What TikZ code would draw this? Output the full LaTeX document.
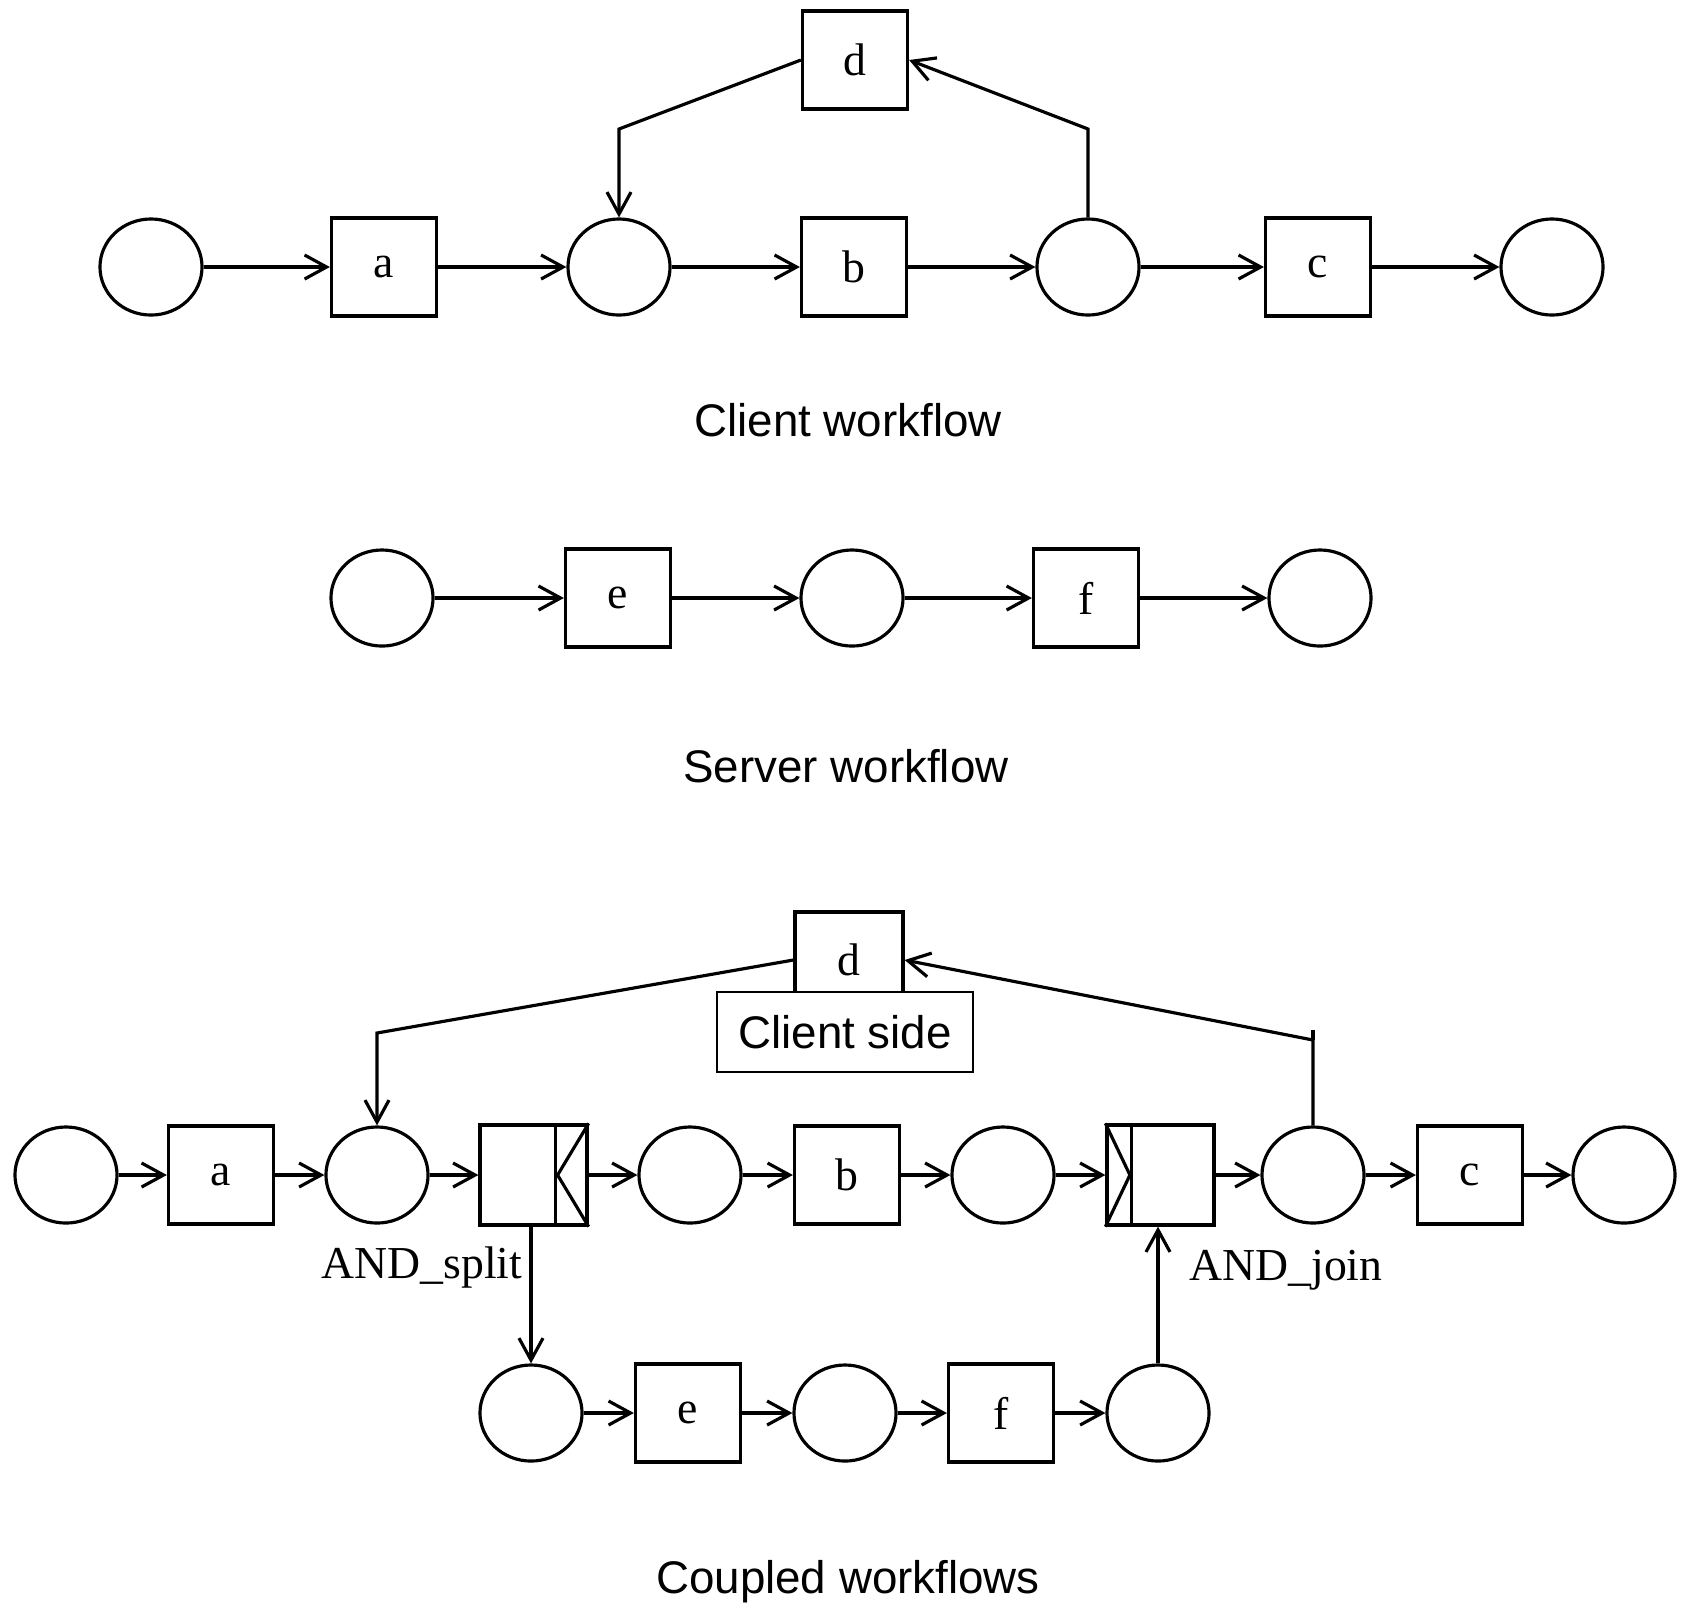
\documentclass[tikz,border=0pt]{standalone}
\usepackage{fontspec}
\setmainfont{Liberation Serif}
\newfontfamily\lsans{Liberation Sans}
\usetikzlibrary{arrows.meta,shapes.geometric}
\begin{document}
\begin{tikzpicture}[x=0.01cm,y=-0.01cm,
  place/.style={ellipse,draw,line width=0.9pt,minimum width=1.02cm,minimum height=0.96cm,inner sep=0pt},
  trans/.style={rectangle,draw,line width=0.9pt,minimum width=1.05cm,minimum height=0.98cm,inner sep=0pt,font=\fontsize{13}{15}\selectfont},
  arr/.style={line width=0.9pt,-{Straight Barb[length=2.2mm,width=2.4mm]}},
  ln/.style={line width=0.9pt},
  lbl/.style={font=\lsans\fontsize{13}{15}\selectfont},
  slbl/.style={font=\fontsize{13}{15}\selectfont}]
\useasboundingbox (0,0) rectangle (1688,1614);
% ---------- Client workflow ----------
\node[place] (p1) at (151,267) {};
\node[trans] (a1) at (384,267) {a};
\node[place] (p2) at (619,267) {};
\node[trans] (b1) at (854,267) {b};
\node[place] (p3) at (1088,267) {};
\node[trans] (c1) at (1318,267) {c};
\node[place] (p4) at (1552,267) {};
\node[trans] (d1) at (855,60) {d};
\draw[arr] (p1) -- (a1);
\draw[arr] (a1) -- (p2);
\draw[arr] (p2) -- (b1);
\draw[arr] (b1) -- (p3);
\draw[arr] (p3) -- (c1);
\draw[arr] (c1) -- (p4);
\coordinate (k1) at (619,129);
\coordinate (k2) at (1088,129);
\draw[arr] (d1.west) -- (k1) -- (p2.north);
\draw[arr] (p3.north) -- (k2) -- (d1.east);
\node[lbl] (t1) at (848,420) {Client workflow};
% ---------- Server workflow ----------
\node[place] (s1) at (382,598) {};
\node[trans] (e1) at (618,598) {e};
\node[place] (s2) at (852,598) {};
\node[trans] (f1) at (1086,598) {f};
\node[place] (s3) at (1320,598) {};
\draw[arr] (s1) -- (e1);
\draw[arr] (e1) -- (s2);
\draw[arr] (s2) -- (f1);
\draw[arr] (f1) -- (s3);
\node[lbl] (t2) at (846,766) {Server workflow};
% ---------- Coupled workflows ----------
\node[place] (q1) at (66,1175) {};
\node[trans] (a2) at (221,1175) {a};
\node[place] (q2) at (377,1175) {};
\node[trans,minimum width=1.07cm,minimum height=1.0cm] (sp) at (533.5,1175) {};
\draw[ln] ([xshift=-0.33cm]sp.north east) -- ([xshift=-0.33cm]sp.south east);
\draw[ln] (sp.north east) -- ([xshift=-0.31cm]sp.east) -- (sp.south east);
\node[place] (q3) at (690,1175) {};
\node[trans] (b2) at (847,1175) {b};
\node[place] (q4) at (1003,1175) {};
\node[trans,minimum width=1.07cm,minimum height=1.0cm] (jn) at (1160.5,1175) {};
\draw[ln] ([xshift=0.26cm]jn.north west) -- ([xshift=0.26cm]jn.south west);
\draw[ln] (jn.north west) -- ([xshift=0.245cm]jn.west) -- (jn.south west);
\node[place] (q5) at (1313,1175) {};
\node[trans] (c2) at (1470,1175) {c};
\node[place] (q6) at (1624,1175) {};
\node[trans,minimum width=1.08cm,minimum height=0.96cm] (d2) at (849,960) {d};
\node[draw,fill=white,line width=0.6pt,minimum width=2.56cm,minimum height=0.8cm,inner sep=0pt,lbl] (cs) at (845,1032) {Client side};
\node[place] (q7) at (531,1413) {};
\node[trans] (e2) at (688,1413) {e};
\node[place] (q8) at (845,1413) {};
\node[trans] (f2) at (1001,1413) {f};
\node[place] (q9) at (1158,1413) {};
\draw[arr] (q1) -- (a2);
\draw[arr] (a2) -- (q2);
\draw[arr] (q2) -- (sp);
\draw[arr] (sp) -- (q3);
\draw[arr] (q3) -- (b2);
\draw[arr] (b2) -- (q4);
\draw[arr] (q4) -- (jn);
\draw[arr] (jn) -- (q5);
\draw[arr] (q5) -- (c2);
\draw[arr] (c2) -- (q6);
\draw[arr] (q7.north |- sp.south) -- (q7.north);
\draw[arr] (q7) -- (e2);
\draw[arr] (e2) -- (q8);
\draw[arr] (q8) -- (f2);
\draw[arr] (f2) -- (q9);
\draw[arr] (q9.north) -- (q9.north |- jn.south);
\coordinate (k3) at (377,1033);
\coordinate (k4) at (1313,1040);
\coordinate (k5) at (1313,1030);
\draw[arr] (d2.west) -- (k3) -- (q2.north);
\draw[arr] (q5.north) -- (k4) -- (d2.east);
\draw[ln] (k4) -- (k5);
\node[slbl] (l1) at (422,1267) {AND\_split};
\node[slbl] (l2) at (1286,1270) {AND\_join};
\node[lbl] (t3) at (848,1582) {Coupled workflows};
\end{tikzpicture}
\end{document}
